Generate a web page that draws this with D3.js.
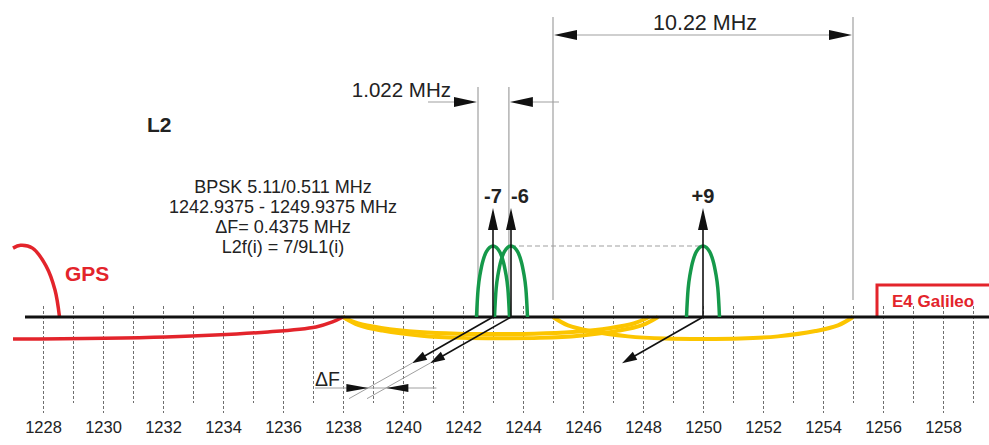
<!DOCTYPE html>
<html>
<head>
<meta charset="utf-8">
<script src="https://cdn.jsdelivr.net/npm/d3@7"></script>
<style>
  body { margin: 0; background: #fff; }
  text { font-family: "Liberation Sans", Arial, sans-serif; fill: #222; }
</style>
</head>
<body>
<svg id="chart"></svg>
<script>
// tick labels (MHz)
var majorTicks = [1228, 1230, 1232, 1234, 1236, 1238, 1240, 1242, 1244, 1246, 1248, 1250, 1252, 1254, 1256, 1258];
var minorTicks = [1229, 1231, 1233, 1235, 1237, 1239, 1241, 1243, 1245, 1247, 1249, 1251, 1253, 1255, 1257, 1259];

// GLONASS L2 channels shown
var channelLabels = ["-7", "-6", "+9"];
var channelFreqs = [1243.0, 1243.6, 1250.0];
var lobeWidth = 1.1;

// normalised main lobe shape [offset, level]
var lobeProfile = [[-1, 0], [-0.9, 0.4], [-0.8, 0.58], [-0.6, 0.8], [-0.4, 0.92], [-0.2, 0.98], [0, 1],
  [0.2, 0.98], [0.4, 0.92], [0.6, 0.8], [0.8, 0.58], [0.9, 0.4], [1, 0]];

// wide BPSK 5.11 envelopes drawn under the axis [from, to, depth]
var yellowArcs = [[1238.0, 1248.5, -0.30], [1238.0, 1248.2, -0.24], [1245.0, 1255.0, -0.31]];
var arcProfile = [[-1, 0], [-0.9, 0.38], [-0.75, 0.64], [-0.5, 0.88], [-0.25, 0.98], [0, 1],
  [0.25, 0.98], [0.5, 0.88], [0.75, 0.64], [0.9, 0.38], [1, 0]];

// GPS L2 signal [freq, level]
var gpsMainLobe = [[1227.0, 0.97], [1227.25, 1.01], [1227.65, 0.97], [1228.1, 0.72], [1228.4, 0.38], [1228.55, 0]];
var gpsTail = [[1227.0, -0.31], [1232.1, -0.28], [1235.5, -0.21], [1237.1, -0.14], [1237.65, -0.07], [1238.0, 0]];

var galileoStart = 1255.8;
var spanWide = [1245.0, 1255.0];
var spanNarrow = [1242.5, 1243.53];

var infoLines = ["BPSK 5.11/0.511 MHz", "1242.9375 - 1249.9375 MHz", "\u0394F= 0.4375 MHz", "L2f(i) = 7/9L1(i)"];

var width = 989, height = 445;
var svg = d3.select("#chart").attr("width", width).attr("height", height);

var x = d3.scaleLinear().domain([1228, 1258]).range([43, 943]);
var y = d3.scaleLinear().domain([0, 1]).range([317, 246]);

var green = "#15994a", red = "#e3242b", yellow = "#fcc500", grey = "#a0a0a0";

// helper: filled arrow head
function arrowHead(tx, ty, ang, len, w) {
  var bx = tx - len * Math.cos(ang), by = ty - len * Math.sin(ang);
  var px = -Math.sin(ang) * w / 2, py = Math.cos(ang) * w / 2;
  svg.append("path")
    .attr("d", "M" + tx + "," + ty + "L" + (bx + px) + "," + (by + py) + "L" + (bx - px) + "," + (by - py) + "Z")
    .attr("fill", "#111");
}

// dashed frequency ticks
var ticks = svg.append("g")
  .attr("transform", "translate(0,306)")
  .call(d3.axisBottom(x)
    .tickValues(majorTicks.concat(minorTicks))
    .tickSize(107)
    .tickFormat(function(d) { return majorTicks.indexOf(d) >= 0 ? d : ""; }));
ticks.select(".domain").remove();
ticks.selectAll("line")
  .attr("stroke", "#6f6f6f")
  .attr("stroke-dasharray", "3,2")
  .attr("y2", function(d) { return majorTicks.indexOf(d) >= 0 ? 107 : 97; });
ticks.selectAll("text")
  .attr("y", 127)
  .attr("dy", 0)
  .style("font-size", "16.5px")
  .style("font-family", "'Liberation Sans', Arial, sans-serif")
  .attr("fill", "#333");

// dimension lines
function vline(xx, y1, y2) {
  svg.append("line").attr("x1", xx).attr("x2", xx).attr("y1", y1).attr("y2", y2)
    .attr("stroke", grey).attr("stroke-width", 1.2);
}
vline(x(spanWide[0]), 17, 300);
vline(x(spanWide[1]), 17, 300);
vline(x(spanNarrow[0]), 87, 317);
vline(x(spanNarrow[1]), 87, 317);

// 10.22 MHz
svg.append("line").attr("x1", x(spanWide[0]) + 10).attr("x2", x(spanWide[1]) - 10)
  .attr("y1", 35).attr("y2", 35).attr("stroke", grey).attr("stroke-width", 1.2);
arrowHead(x(spanWide[0]) + 1, 35, Math.PI, 23, 10);
arrowHead(x(spanWide[1]) - 1, 35, 0, 23, 10);
svg.append("text").attr("x", (x(spanWide[0]) + x(spanWide[1])) / 2 + 2).attr("y", 30)
  .attr("text-anchor", "middle").style("font-size", "21.5px").text("10.22 MHz");

// 1.022 MHz
svg.append("line").attr("x1", x(spanNarrow[0]) - 50).attr("x2", x(spanNarrow[0]) - 5)
  .attr("y1", 102).attr("y2", 102).attr("stroke", grey).attr("stroke-width", 1.2);
svg.append("line").attr("x1", x(spanNarrow[1]) + 5).attr("x2", x(spanWide[0]) + 6)
  .attr("y1", 102).attr("y2", 102).attr("stroke", grey).attr("stroke-width", 1.2);
arrowHead(x(spanNarrow[0]) - 1, 102, 0, 23, 10);
arrowHead(x(spanNarrow[1]) + 1, 102, Math.PI, 23, 10);
svg.append("text").attr("x", x(spanNarrow[0]) - 27).attr("y", 97)
  .attr("text-anchor", "end").style("font-size", "20.5px").text("1.022 MHz");

// dashed level line between peaks
svg.append("line").attr("x1", x(channelFreqs[1])).attr("x2", x(channelFreqs[2]))
  .attr("y1", y(1)).attr("y2", y(1))
  .attr("stroke", grey).attr("stroke-width", 1.2).attr("stroke-dasharray", "5,3");

var curve = d3.line().curve(d3.curveCatmullRom)
  .x(function(d) { return x(d[0]); })
  .y(function(d) { return y(d[1]); });

// yellow envelopes
yellowArcs.forEach(function(a) {
  var c = (a[0] + a[1]) / 2, hw = (a[1] - a[0]) / 2;
  svg.append("path")
    .attr("d", curve(arcProfile.map(function(p) { return [c + p[0] * hw, p[1] * a[2]]; })))
    .attr("fill", "none").attr("stroke", yellow).attr("stroke-width", 4);
});

// GPS
[gpsMainLobe, gpsTail].forEach(function(s) {
  svg.append("path").attr("d", curve(s))
    .attr("fill", "none").attr("stroke", red).attr("stroke-width", 3.5);
});

// E4 Galileo bracket
svg.append("path")
  .attr("d", "M" + x(galileoStart) + "," + y(0) + "V285H" + width)
  .attr("fill", "none").attr("stroke", red).attr("stroke-width", 3);

// frequency axis
svg.append("line").attr("x1", x(1227.4)).attr("x2", width)
  .attr("y1", y(0)).attr("y2", y(0)).attr("stroke", "#111").attr("stroke-width", 3);

// green channel lobes
channelFreqs.forEach(function(f) {
  svg.append("path")
    .attr("d", curve(lobeProfile.map(function(p) { return [f + p[0] * lobeWidth / 2, p[1]]; })))
    .attr("fill", "none").attr("stroke", green).attr("stroke-width", 3.5);
});

// channel arrows and labels
channelFreqs.forEach(function(f, i) {
  var cx = x(f);
  svg.append("line").attr("x1", cx).attr("x2", cx).attr("y1", y(0)).attr("y2", 225)
    .attr("stroke", "#111").attr("stroke-width", 1.6);
  arrowHead(cx, 208, -Math.PI / 2, 22, 10);
  svg.append("text").attr("x", cx + (i === 1 ? 9 : 0)).attr("y", 203)
    .attr("text-anchor", "middle").style("font-size", "20px").style("font-weight", "bold")
    .text(channelLabels[i]);

  // diagonal arrow
  var x1 = x(f - 2.7), y1 = y(-0.65);
  var ang = Math.atan2(y1 - y(0), x1 - cx);
  svg.append("line").attr("x1", cx).attr("y1", y(0))
    .attr("x2", x1 - 10 * Math.cos(ang)).attr("y2", y1 - 10 * Math.sin(ang))
    .attr("stroke", "#111").attr("stroke-width", 1.6);
  arrowHead(x1, y1, ang, 15, 9);
  if (i < 2) {
    svg.append("line").attr("x1", x1).attr("y1", y1)
      .attr("x2", x(f - 4.8)).attr("y2", y(-1.15))
      .attr("stroke", grey).attr("stroke-width", 1);
  }
});

// delta F marker
var dfY = 388;
function crossX(f) {
  var x0 = x(f), x1 = x(f - 2.7), y1 = y(-0.65);
  return x0 + (x1 - x0) * (dfY - y(0)) / (y1 - y(0));
}
var dfA = crossX(channelFreqs[0]), dfB = crossX(channelFreqs[1]);
svg.append("line").attr("x1", 315).attr("x2", dfB + 50).attr("y1", dfY).attr("y2", dfY)
  .attr("stroke", grey).attr("stroke-width", 1);
arrowHead(dfA, dfY, 0, 22, 8);
arrowHead(dfB, dfY, Math.PI, 22, 8);
svg.append("text").attr("x", 315).attr("y", 386).style("font-size", "19.5px").text("\u0394F");

// labels
svg.append("text").attr("x", 147).attr("y", 132)
  .style("font-size", "21px").style("font-weight", "bold").text("L2");
svg.selectAll(".info").data(infoLines).enter().append("text")
  .attr("x", 283).attr("y", function(d, i) { return 193 + i * 20; })
  .attr("text-anchor", "middle").style("font-size", "18px").attr("fill", "#333")
  .text(function(d) { return d; });
svg.append("text").attr("x", 65).attr("y", 281)
  .style("font-size", "21px").style("font-weight", "bold").style("fill", red).text("GPS");
svg.append("text").attr("x", 892).attr("y", 307)
  .style("font-size", "17px").style("font-weight", "bold").style("fill", red).text("E4 Galileo");
</script>
</body>
</html>
